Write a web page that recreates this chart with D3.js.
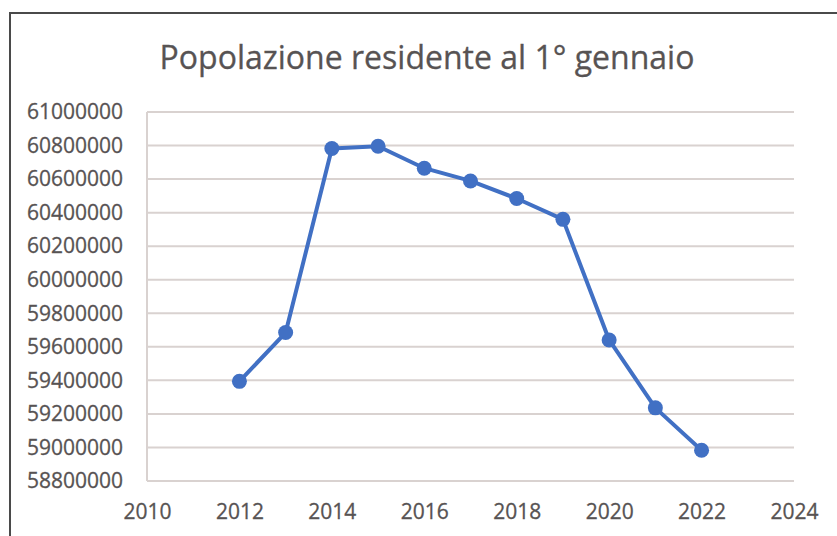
<!DOCTYPE html>
<html>
<head>
<meta charset="utf-8">
<script src="https://cdn.jsdelivr.net/npm/d3@7"></script>
<style>
  body { margin: 0; background: #fff; }
  svg text { font-family: "Open Sans", sans-serif; fill: #575353; }
</style>
</head>
<body>
<div id="container"></div>
<script>
const years = [2012, 2013, 2014, 2015, 2016, 2017, 2018, 2019, 2020, 2021, 2022];
const popolazione = [59394000, 59685000, 60782000, 60796000, 60665000, 60589000, 60484000, 60360000, 59641000, 59236000, 58983000];
const xTicks = [2010, 2012, 2014, 2016, 2018, 2020, 2022, 2024];
const yTicks = [58800000, 59000000, 59200000, 59400000, 59600000, 59800000, 60000000, 60200000, 60400000, 60600000, 60800000, 61000000];
const title = "Popolazione residente al 1° gennaio";

const w = 837, h = 536;
const margin = {top: 112, right: 43, bottom: 55, left: 147};

const svg = d3.select("#container")
    .append("svg")
    .attr("width", w)
    .attr("height", h);

// chart border (only top and left are inside the picture)
svg.append("rect")
    .attr("x", 10).attr("y", 13)
    .attr("width", 900).attr("height", 600)
    .attr("fill", "none")
    .attr("stroke", "#4a4a4a")
    .attr("stroke-width", 2);

const x = d3.scaleLinear()
    .domain([2010, 2024])
    .range([margin.left, w - margin.right]);

const y = d3.scaleLinear()
    .domain([58800000, 61000000])
    .range([h - margin.bottom, margin.top]);

svg.append("text")
    .attr("x", 427)
    .attr("y", 69)
    .attr("text-anchor", "middle")
    .style("font-size", "32px")
    .style("stroke", "#575353")
    .style("stroke-width", 0.3)
    .text(title);

// gridlines
svg.append("g")
    .selectAll("line")
    .data(yTicks)
    .enter()
    .append("line")
    .attr("x1", x(2010))
    .attr("x2", x(2024))
    .attr("y1", d => y(d))
    .attr("y2", d => y(d))
    .attr("stroke", "#d9d2d0")
    .attr("stroke-width", 2);

svg.append("line")
    .attr("x1", x(2010)).attr("x2", x(2010))
    .attr("y1", y(61000000)).attr("y2", y(58800000))
    .attr("stroke", "#d9d2d0")
    .attr("stroke-width", 2);

const yAxis = d3.axisLeft(y)
    .tickValues(yTicks)
    .tickSize(0)
    .tickPadding(24)
    .tickFormat(d3.format("d"));

const xAxis = d3.axisBottom(x)
    .tickValues(xTicks)
    .tickSize(0)
    .tickPadding(23)
    .tickFormat(d3.format("d"));

svg.append("g")
    .attr("transform", "translate(" + margin.left + ",0)")
    .call(yAxis)
    .call(g => g.select(".domain").remove())
    .selectAll("text")
    .style("font-size", "21px")
    .style("stroke", "#575353")
    .style("stroke-width", 0.3);

svg.append("g")
    .attr("transform", "translate(0," + (h - margin.bottom) + ")")
    .call(xAxis)
    .call(g => g.select(".domain").remove())
    .selectAll("text")
    .style("font-size", "21px")
    .style("stroke", "#575353")
    .style("stroke-width", 0.3);

const data = years.map((d, i) => ({year: d, value: popolazione[i]}));

const line = d3.line()
    .x(d => x(d.year))
    .y(d => y(d.value));

svg.append("path")
    .datum(data)
    .attr("fill", "none")
    .attr("stroke", "#4170c4")
    .attr("stroke-width", 4)
    .attr("stroke-linejoin", "round")
    .attr("d", line);

svg.append("g")
    .selectAll("circle")
    .data(data)
    .enter()
    .append("circle")
    .attr("cx", d => x(d.year))
    .attr("cy", d => y(d.value))
    .attr("r", 7.5)
    .attr("fill", "#4170c4");
</script>
</body>
</html>
